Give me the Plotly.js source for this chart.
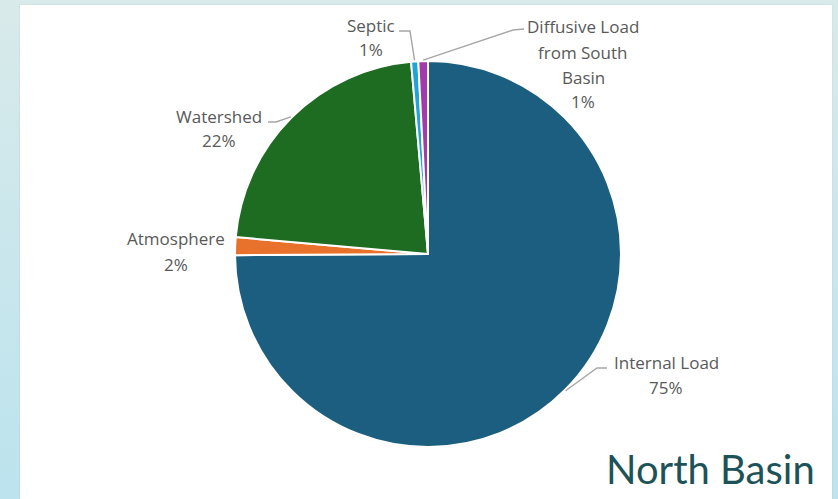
<!DOCTYPE html>
<html><head><meta charset="utf-8">
<script src="https://cdn.plot.ly/plotly-3.0.1.min.js"></script>
<style>
html,body{margin:0;padding:0;width:838px;height:499px;overflow:hidden;}
body{background:linear-gradient(180deg,#d9eaea 0%,#cbe7ec 45%,#bce3ee 100%);}
#panel{position:absolute;left:20px;top:5px;width:812px;height:494px;background:#ffffff;box-shadow:0 0 2px rgba(0,0,0,0.08);}
#chart{position:absolute;left:0;top:0;width:838px;height:499px;}
</style></head><body>
<div id="panel"></div><div id="chart"></div>
<script>
// ---- data ----
const categories = ["Internal Load", "Atmosphere", "Watershed", "Septic", "Diffusive Load from South Basin"];
const values = [74.9, 1.5, 22.2, 0.6, 0.8];
const percentLabels = ["75%", "2%", "22%", "1%", "1%"];
const wrappedLabels = [["Internal Load"], ["Atmosphere"], ["Watershed"], ["Septic"], ["Diffusive Load", "from South", "Basin"]];
const chartTitle = "North Basin";

// ---- style / layout ----
const colors = ["#1b5e80", "#e8722c", "#1e6b22", "#1ea4d8", "#a33aac"];
const W = 838, H = 499;
const CX = 428, CY = 254, R = 193;
const labelPos = [[666, 362], [176, 239], [219, 116], [371, 25], [583, 27]];
const lineGap = 25;
const leaderStart = [[[607, 368], [597, 368]], null, [[268, 122], [276, 122]], [[399, 31], [410, 31]], [[524, 29], [513, 30]]];

const px = x => x / W;
const py = y => 1 - y / H;

const total = values.reduce((a, b) => a + b, 0);
let cum = 0;
const midAngles = values.map(v => { const m = (cum + v / 2) / total * 360; cum += v; return m; });

const annotations = [];
categories.forEach((c, i) => {
  const lines = wrappedLabels[i].concat([percentLabels[i]]);
  lines.forEach((t, k) => {
    annotations.push({
      x: px(labelPos[i][0]), y: py(labelPos[i][1] + k * lineGap),
      xref: "paper", yref: "paper", xanchor: "center", yanchor: "middle",
      text: t, showarrow: false,
      font: {family: "'Open Sans', Lato, sans-serif", size: 17, color: "#595959"}
    });
  });
});
annotations.push({
  x: px(817), y: py(469), xref: "paper", yref: "paper", xanchor: "right", yanchor: "middle",
  text: chartTitle, showarrow: false,
  font: {family: "Lato, 'Open Sans', sans-serif", size: 40, color: "#1d5258"}
});

const shapes = [];
leaderStart.forEach((pts, i) => {
  if (!pts) return;
  const a = midAngles[i] * Math.PI / 180;
  const tip = [CX + (R + 1) * Math.sin(a), CY - (R + 1) * Math.cos(a)];
  const all = pts.concat([tip]);
  const path = all.map((p, k) => (k ? "L" : "M") + px(p[0]).toFixed(5) + "," + py(p[1]).toFixed(5)).join(" ");
  shapes.push({type: "path", xref: "paper", yref: "paper", path: path,
    line: {color: "#a6a6a6", width: 1.4}});
});

const trace = {
  type: "pie",
  labels: categories,
  values: values,
  sort: false,
  direction: "clockwise",
  rotation: 0,
  textinfo: "none",
  hoverinfo: "label+percent",
  showlegend: false,
  marker: {colors: colors, line: {color: "#ffffff", width: 2}},
  domain: {x: [px(CX - R), px(CX + R)], y: [py(CY + R), py(CY - R)]}
};

Plotly.newPlot("chart", [trace], {
  width: W, height: H,
  margin: {l: 0, r: 0, t: 0, b: 0},
  paper_bgcolor: "rgba(0,0,0,0)",
  plot_bgcolor: "rgba(0,0,0,0)",
  showlegend: false,
  annotations: annotations,
  shapes: shapes
}, {displayModeBar: false, staticPlot: true});
</script>
</body></html>
